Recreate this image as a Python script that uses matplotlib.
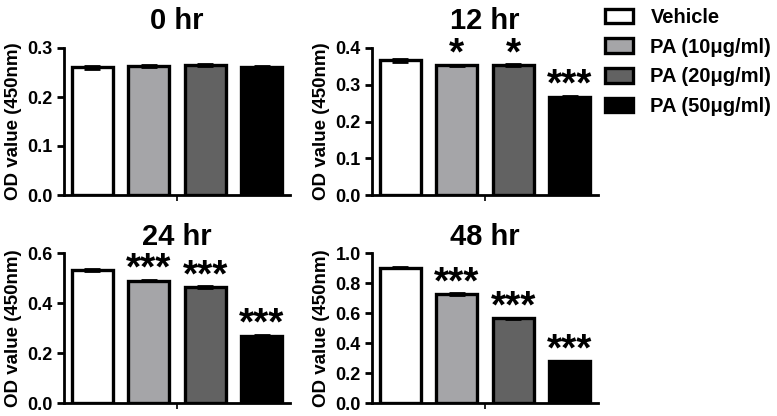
import numpy as np
import matplotlib.pyplot as plt

plt.rcParams['font.family'] = ['Liberation Sans', 'DejaVu Sans']
plt.rcParams['font.weight'] = 'bold'

groups = ['Vehicle', 'PA (10μg/ml)', 'PA (20μg/ml)', 'PA (50μg/ml)']
colors = ['#ffffff', '#a5a5a8', '#626262', '#000000']

titles = ['0 hr', '12 hr', '24 hr', '48 hr']
means = [
    [0.261, 0.263, 0.265, 0.262],
    [0.366, 0.353, 0.353, 0.268],
    [0.533, 0.490, 0.464, 0.270],
    [0.902, 0.727, 0.565, 0.277],
]
errs = [
    [0.003, 0.002, 0.002, 0.002],
    [0.003, 0.002, 0.003, 0.002],
    [0.003, 0.003, 0.003, 0.003],
    [0.005, 0.005, 0.005, 0.004],
]
stars = [
    ['', '', '', ''],
    ['', '*', '*', '***'],
    ['', '***', '***', '***'],
    ['', '***', '***', '***'],
]
ylims = [0.3, 0.4, 0.6, 1.0]
yticks = [
    [0.0, 0.1, 0.2, 0.3],
    [0.0, 0.1, 0.2, 0.3, 0.4],
    [0.0, 0.2, 0.4, 0.6],
    [0.0, 0.2, 0.4, 0.6, 0.8, 1.0],
]

fig = plt.figure(figsize=(7.77, 4.16), dpi=100)
W, H = 777, 416
# axes boxes in pixels: left, right, top, bottom
boxes = [(64, 290, 48, 195), (372, 598, 48, 195),
         (64, 290, 253, 403), (372, 598, 253, 403)]
title_pads = [14, 14, 6, 6]

x = np.arange(4)
handles = None
for i in range(4):
    l, r, t, b = boxes[i]
    ax = fig.add_axes([l / W, 1 - b / H, (r - l) / W, (b - t) / H])
    bars = ax.bar(x, means[i], width=0.72, color=colors, edgecolor='black',
                  linewidth=2.4, zorder=2)
    ax.errorbar(x, means[i], yerr=errs[i], fmt='none', ecolor='black',
                elinewidth=2, capsize=6, capthick=2, zorder=3)
    if handles is None:
        handles = bars
    for j in range(4):
        if stars[i][j]:
            ax.annotate(stars[i][j], (x[j], means[i][j] + errs[i][j]),
                        xytext=(0, 0), textcoords='offset points',
                        ha='center', va='baseline', fontsize=28,
                        fontweight='bold')
    ax.set_xlim(-0.5, 3.5)
    ax.set_ylim(0, ylims[i])
    ax.set_yticks(yticks[i])
    ax.set_yticklabels(['%.1f' % v for v in yticks[i]])
    ax.set_xticks([1.5])
    ax.set_xticklabels([''])
    ax.tick_params(axis='y', length=5, width=2, labelsize=13, pad=3)
    ax.tick_params(axis='x', length=4, width=1.2)
    ax.spines['top'].set_visible(False)
    ax.spines['right'].set_visible(False)
    ax.spines['left'].set_linewidth(2)
    ax.spines['bottom'].set_linewidth(2)
    ax.set_ylabel('OD value (450nm)', fontsize=13.5, fontweight='bold',
                  labelpad=4)
    ax.set_title(titles[i], fontsize=21, fontweight='bold', pad=title_pads[i])

fig.legend(handles, groups, loc='upper left', bbox_to_anchor=(597 / W, 1.0),
           frameon=False, fontsize=14.5, handlelength=1.4, handleheight=0.75,
           labelspacing=0.53, handletextpad=0.85, borderaxespad=0.0)

fig.savefig('out.png', dpi=100)
